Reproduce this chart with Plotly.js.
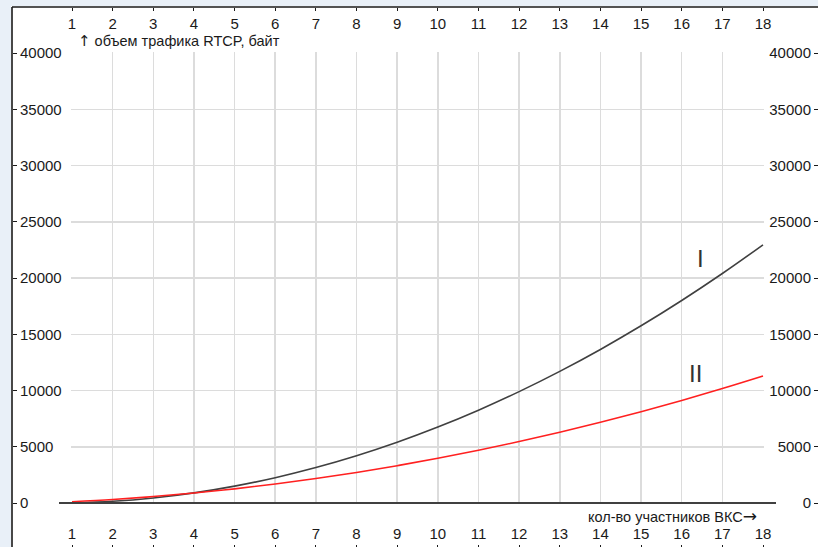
<!DOCTYPE html>
<html><head><meta charset="utf-8">
<script src="https://cdn.plot.ly/plotly-3.0.1.min.js"></script>
<style>html,body{margin:0;padding:0;background:#fff;}#c{width:818px;height:547px;}</style>
</head><body><div id="c"></div>
<script>
const participants = [1,2,3,4,5,6,7,8,9,10,11,12,13,14,15,16,17,18];
const trafficI  = [0,150,450,900,1500,2250,3150,4200,5400,6750,8250,9900,11700,13650,15750,18000,20400,22950];
const trafficII = [116,315,572,887,1258,1687,2172,2715,3316,3973,4688,5459,6288,7175,8118,9119,10176,11291];
const yTicks = [0,5000,10000,15000,20000,25000,30000,35000,40000];
const yTitle = '<span style="font-family:DejaVu Sans;font-size:15px">↑</span> объем трафика RTCP, байт';
const xTitle = 'кол-во участников ВКС<span style="font-family:DejaVu Sans;font-size:17px">→</span>';

const W = 818, H = 547;
const px = v => v / W, py = v => 1 - v / H;
const fam = 'Liberation Sans, Arial, sans-serif';
const tickFont = {family: fam, size: 15, color: '#1a1a1a'};
const titleFont = {family: fam, size: 14.5, color: '#1a1a1a'};
// 1 px margin beyond the data range so edge grid lines are not clipped
const xu = 1 / ((763 - 72) / 17), yu = 1 / (450 / 40000);
const xDom = [px(71), px(764)], xRange = [1 - xu, 18 + xu];
const yDom = [py(504), py(52)], yRange = [0 - yu, 40000 + yu];

const traces = [
  {x: participants, y: trafficI, mode: 'lines', line: {color: '#404040', width: 1.6, shape: 'spline'}, hoverinfo: 'skip', showlegend: false},
  {x: participants, y: trafficII, mode: 'lines', line: {color: '#ff2020', width: 1.6, shape: 'spline'}, hoverinfo: 'skip', showlegend: false},
  {x: [participants[0]], y: [yTicks[0]], xaxis: 'x2', yaxis: 'y2', mode: 'markers', marker: {opacity: 0}, hoverinfo: 'skip', showlegend: false},
  {x: [participants[0]], y: [yTicks[0]], xaxis: 'x3', yaxis: 'y3', mode: 'markers', marker: {opacity: 0}, hoverinfo: 'skip', showlegend: false}
];

const common = {tickvals: participants, ticktext: participants.map(String), range: xRange, zeroline: false, showgrid: false, fixedrange: true, automargin: false};
const ycommon = {domain: yDom, range: yRange, tickvals: yTicks, ticktext: yTicks.map(String), zeroline: false, showgrid: false, fixedrange: true, automargin: false};
const gridColor = '#dcdcdc';
const layout = {
  width: W, height: H,
  margin: {l: 0, r: 0, t: 0, b: 0, pad: 0},
  paper_bgcolor: '#ffffff', plot_bgcolor: 'rgba(0,0,0,0)',
  font: tickFont,
  xaxis: Object.assign({}, common, {domain: xDom, anchor: 'y', showgrid: true, gridcolor: gridColor, gridwidth: 1.5, showticklabels: false, ticks: ''}),
  yaxis: Object.assign({}, ycommon, {anchor: 'x', showgrid: true, gridcolor: gridColor, gridwidth: 1.5, showticklabels: false, ticks: ''}),
  xaxis2: Object.assign({}, common, {domain: xDom, overlaying: 'x', anchor: 'free', position: py(7), side: 'bottom', ticks: 'outside', ticklen: 3, tickwidth: 1, tickcolor: '#1a1a1a', tickfont: tickFont, showline: false}),
  xaxis3: Object.assign({}, common, {domain: xDom, overlaying: 'x', anchor: 'free', position: 0, side: 'top', ticks: 'outside', ticklen: 2, tickwidth: 1, tickcolor: '#1a1a1a', tickfont: tickFont, showline: false}),
  yaxis2: Object.assign({}, ycommon, {overlaying: 'y', anchor: 'free', position: px(12), side: 'right', ticks: 'outside', ticklen: 4, tickwidth: 1, tickcolor: '#1a1a1a', tickfont: tickFont, showline: false}),
  yaxis3: Object.assign({}, ycommon, {overlaying: 'y', anchor: 'free', position: 1, side: 'left', ticks: 'outside', ticklen: 4, tickwidth: 1, tickcolor: '#1a1a1a', tickfont: tickFont, showline: false}),
  shapes: [
    {type: 'rect', xref: 'paper', yref: 'paper', x0: 0, x1: px(11), y0: 0, y1: 1, fillcolor: '#e9f0f8', line: {width: 0}, layer: 'below'},
    {type: 'rect', xref: 'paper', yref: 'paper', x0: 0, x1: 1, y0: py(6), y1: 1, fillcolor: '#e9f0f8', line: {width: 0}, layer: 'below'},
    {type: 'line', xref: 'paper', yref: 'paper', x0: px(12), x1: px(12), y0: 0, y1: py(7), line: {color: '#1a1a1a', width: 1.6}},
    {type: 'line', xref: 'paper', yref: 'paper', x0: px(12), x1: 1, y0: py(7), y1: py(7), line: {color: '#1a1a1a', width: 1.6}},
    {type: 'line', xref: 'paper', yref: 'y', x0: px(59), x1: px(776), y0: 0, y1: 0, line: {color: '#404040', width: 2}}
  ],
  annotations: [
    {xref: 'paper', yref: 'paper', x: px(76), y: py(41), xanchor: 'left', yanchor: 'middle', text: yTitle, showarrow: false, font: titleFont},
    {xref: 'paper', yref: 'paper', x: px(759), y: py(516), xanchor: 'right', yanchor: 'middle', text: xTitle, showarrow: false, font: titleFont},
    {xref: 'x', yref: 'y', x: 16.47, y: 21700, xanchor: 'center', yanchor: 'middle', text: 'I', showarrow: false, font: {family: fam, size: 24, color: '#333333'}},
    {xref: 'x', yref: 'y', x: 16.35, y: 11550, xanchor: 'center', yanchor: 'middle', text: 'II', showarrow: false, font: {family: fam, size: 24, color: '#333333'}}
  ]
};
Plotly.newPlot('c', traces, layout, {staticPlot: true, displayModeBar: false});
</script></body></html>
